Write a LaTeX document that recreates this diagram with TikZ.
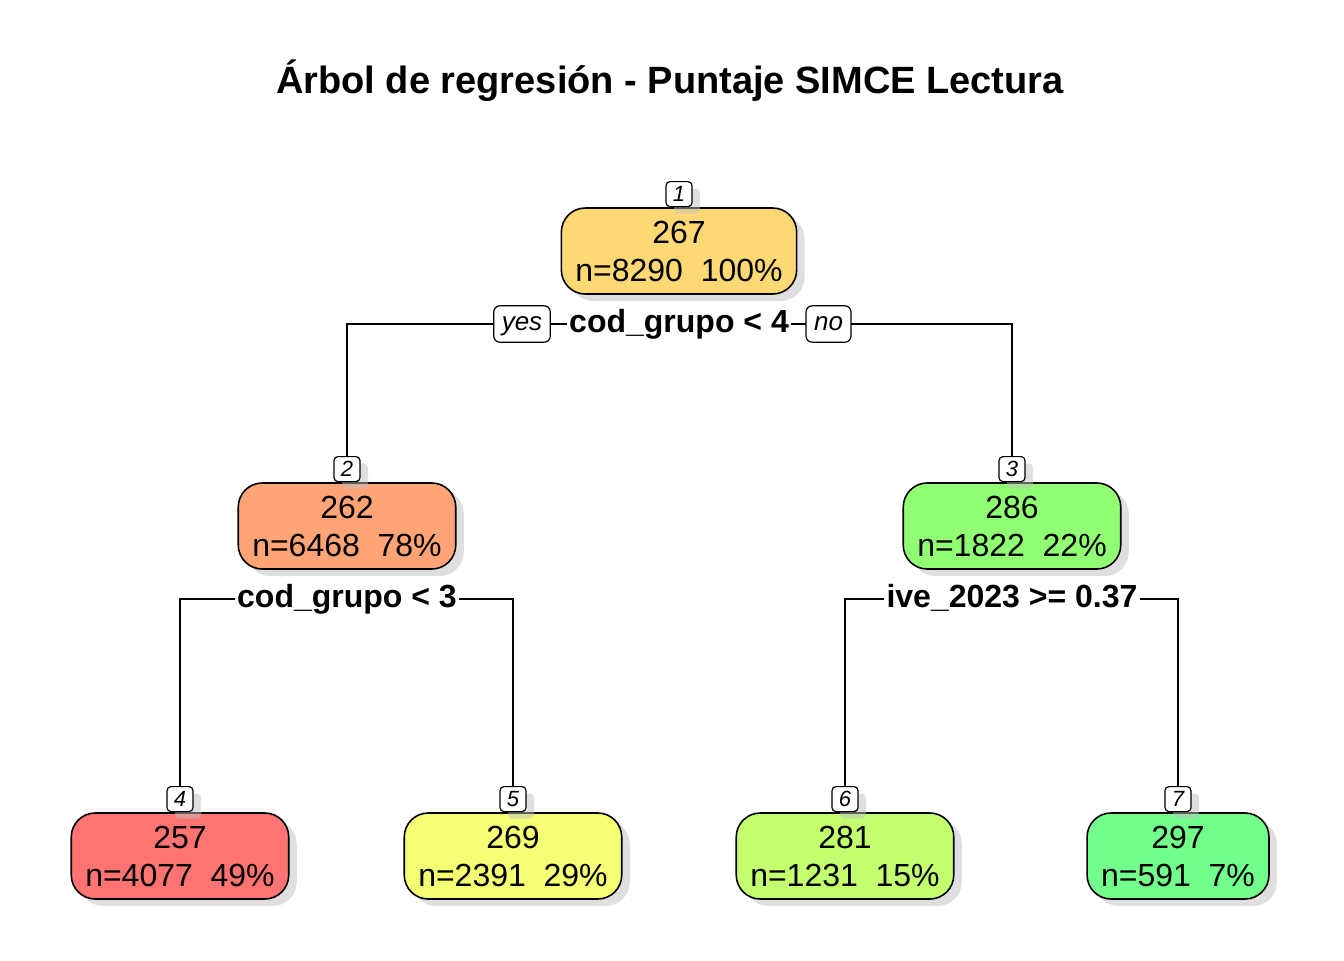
\documentclass[tikz,border=0pt]{standalone}
\usepackage{fontspec}
\setmainfont{Liberation Sans}
\usetikzlibrary{positioning, shadows, backgrounds}

\definecolor{c1}{RGB}{253,216,115}
\definecolor{c2}{RGB}{255,164,118}
\definecolor{c3}{RGB}{145,255,115}
\definecolor{c4}{RGB}{255,115,115}
\definecolor{c5}{RGB}{245,255,115}
\definecolor{c6}{RGB}{195,255,110}
\definecolor{c7}{RGB}{115,255,140}

\tikzset{
  shade/.style={drop shadow={shadow xshift=4pt, shadow yshift=-3.5pt, fill=black!25}},
  leaf/.style={draw, line width=0.8pt, rounded corners=12pt, minimum height=43pt,
    inner xsep=7pt, align=center, font=\fontsize{16}{19}\selectfont, shade},
  tag/.style={draw, fill=white, line width=0.6pt, rounded corners=2pt, minimum width=13pt,
    minimum height=12.5pt, inner sep=0pt, font=\fontsize{11}{12}\itshape\selectfont, shade},
  split/.style={fill=white, inner xsep=1pt, inner ysep=2pt, text height=11.5pt, text depth=3pt,
    font=\fontsize{16}{19}\bfseries\selectfont},
  yesno/.style={draw, fill=white, line width=0.6pt, rounded corners=3pt, minimum height=17pt,
    inner xsep=4pt, text height=9pt, text depth=2.5pt, font=\fontsize{13}{15}\itshape\selectfont},
  link/.style={line width=0.7pt}
}

\begin{document}
\begin{tikzpicture}[x=0.5pt, y=-0.5pt]
    \useasboundingbox (0,0) rectangle (1344,960);

    % titulo
    \node[font=\fontsize{19}{23}\bfseries\selectfont] (title) at (670,81) {Árbol de regresión - Puntaje SIMCE Lectura};

    % nodos
    \node[leaf, fill=c1] (n1) at (679,251) {267\\n=8290\ \ 100\%};
    \node[leaf, fill=c2] (n2) at (347,526) {262\\n=6468\ \ 78\%};
    \node[leaf, fill=c3] (n3) at (1012,526) {286\\n=1822\ \ 22\%};
    \node[leaf, fill=c4] (n4) at (180,856) {257\\n=4077\ \ 49\%};
    \node[leaf, fill=c5] (n5) at (513,856) {269\\n=2391\ \ 29\%};
    \node[leaf, fill=c6] (n6) at (845,856) {281\\n=1231\ \ 15\%};
    \node[leaf, fill=c7] (n7) at (1178,856) {297\\n=591\ \ 7\%};

    % numeros de nodo
    \foreach \i in {1,...,7} {
        \node[tag, above=0pt of n\i] (t\i) {\i};
    }

    % reglas de division
    \node[split] (s1) at (679,324) {cod\_grupo < 4};
    \node[split] (s2) at (347,599) {cod\_grupo < 3};
    \node[split] (s3) at (1012,599) {ive\_2023 >= 0.37};
    \node[yesno] (yes) at (522,324) {yes};
    \node[yesno] (no) at (828.5,324) {no};

    % conexiones
    \begin{pgfonlayer}{background}
        \draw[link] (s1.west) -| (t2.north);
        \draw[link] (s1.east) -| (t3.north);
        \draw[link] (s2.west) -| (t4.north);
        \draw[link] (s2.east) -| (t5.north);
        \draw[link] (s3.west) -| (t6.north);
        \draw[link] (s3.east) -| (t7.north);
    \end{pgfonlayer}
\end{tikzpicture}
\end{document}
